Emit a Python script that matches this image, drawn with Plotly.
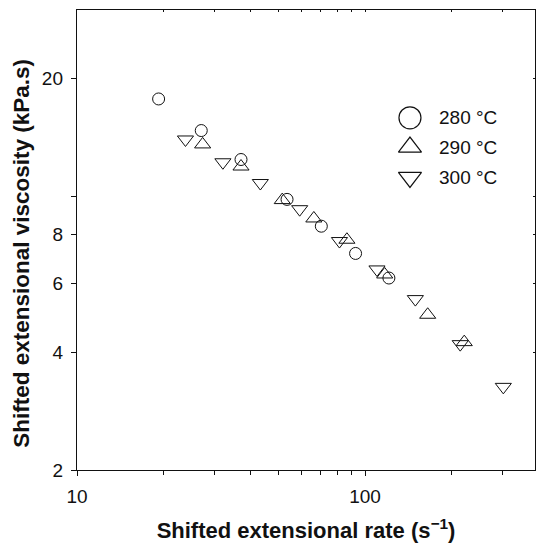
import math
import plotly.graph_objects as go

# ---- data ----
x280 = [19.2, 27.0, 37.1, 53.6, 70.5, 92.7, 121]
y280 = [17.7, 14.7, 12.4, 9.81, 8.38, 7.14, 6.18]

x290 = [27.3, 37.1, 51.6, 66.4, 86.5, 117, 165, 221]
y290 = [13.55, 11.9, 9.77, 8.77, 7.74, 6.31, 4.98, 4.24]

x300 = [23.8, 32.1, 43.3, 59.3, 81.5, 110, 149.5, 214, 302]
y300 = [13.95, 12.2, 10.8, 9.26, 7.68, 6.5, 5.46, 4.19, 3.26]

series_names = ["280 °C", "290 °C", "300 °C"]

x_tickvals = [10, 100]
x_ticktext = ["10", "100"]
x_minor = [20, 30, 40, 50, 60, 70, 80, 90, 200, 300]
y_tickvals = [2, 4, 6, 8, 20]
y_ticktext = ["2", "4", "6", "8", "20"]
y_minor = [10]

x_title = "<b>Shifted extensional rate (s<sup>−1</sup>)</b>"
y_title = "<b>Shifted extensional viscosity (kPa.s)</b>"

FONT = "Liberation Sans, Arial, Helvetica, sans-serif"
XR = [1.0, 2.59]
YR = [math.log10(2), 1.475]
INK = "#111"

fig = go.Figure()

def pts(x, y, sym, size):
    return go.Scatter(x=x, y=y, mode="markers", showlegend=False,
                      marker=dict(symbol=sym, size=size, color=INK,
                                  line=dict(color=INK, width=1)))

fig.add_trace(pts(x280, y280, "circle-open", 12))
fig.add_trace(pts(x290, y290, "triangle-up-open", 14))
fig.add_trace(pts(x300, y300, "triangle-down-open", 14))

# dummy trace for mirrored (top/right) tick axes
fig.add_trace(go.Scatter(x=[None], y=[None], xaxis="x2", yaxis="y2",
                         showlegend=False, hoverinfo="skip"))

# custom legend (markers on a hidden unit axis pair)
leg_x = [0.727, 0.727, 0.727]
leg_y = [0.7656, 0.702, 0.636]
leg_sym = ["circle-open", "triangle-up-open", "triangle-down-open"]
leg_size = [22, 20, 20]
for lx, ly, s, sz in zip(leg_x, leg_y, leg_sym, leg_size):
    fig.add_trace(go.Scatter(x=[lx], y=[ly], xaxis="x3", yaxis="y3", mode="markers",
                             showlegend=False, hoverinfo="skip",
                             marker=dict(symbol=s, size=sz, color=INK,
                                         line=dict(color=INK, width=1.2))))
for ly, name in zip(leg_y, series_names):
    fig.add_annotation(x=0.786, y=ly, xref="x3", yref="y3", text=name,
                       showarrow=False, xanchor="left", yanchor="middle",
                       font=dict(family=FONT, size=19, color=INK))

# y-axis title (placed slightly below the plot centre as in the reference)
fig.add_annotation(x=-0.12, y=0.47, xref="paper", yref="paper", text=y_title,
                   textangle=-90, showarrow=False, xanchor="center", yanchor="middle",
                   font=dict(family=FONT, size=22.5, color=INK))

axis_common = dict(showgrid=False, zeroline=False, showline=True,
                   linecolor=INK, linewidth=1.4, automargin=False)

fig.update_layout(
    width=537, height=543,
    margin=dict(l=77, r=2, t=10, b=73),
    paper_bgcolor="white", plot_bgcolor="white",
    font=dict(family=FONT, color=INK),
    xaxis=dict(type="log", range=XR, tickmode="array", tickvals=x_tickvals,
               ticktext=x_ticktext, tickangle=0,
               ticks="outside", ticklen=5, tickwidth=1.2, tickcolor=INK,
               minor=dict(tickmode="array", tickvals=x_minor, ticks="outside",
                          ticklen=4, tickwidth=1.2, tickcolor=INK, showgrid=False),
               tickfont=dict(size=19, family=FONT, color=INK),
               ticklabelstandoff=4,
               title=dict(text=x_title,
                          font=dict(size=22, family=FONT, color=INK), standoff=17),
               **axis_common),
    yaxis=dict(type="log", range=YR, tickmode="array", tickvals=y_tickvals,
               ticktext=y_ticktext,
               ticks="outside", ticklen=5, tickwidth=1.2, tickcolor=INK,
               minor=dict(tickmode="array", tickvals=y_minor, ticks="outside",
                          ticklen=5, tickwidth=1.2, tickcolor=INK, showgrid=False),
               tickfont=dict(size=19, family=FONT, color=INK),
               ticklabelstandoff=4,
               **axis_common),
    xaxis2=dict(type="log", range=XR, overlaying="x", side="top", anchor="y2",
                tickmode="array", tickvals=x_tickvals + x_minor,
                showticklabels=False, ticks="inside",
                ticklen=2, tickcolor=INK, **axis_common),
    yaxis2=dict(type="log", range=YR, overlaying="y", side="right", anchor="x2",
                tickmode="array", tickvals=y_tickvals + y_minor,
                showticklabels=False, ticks="inside",
                ticklen=2, tickcolor=INK, **axis_common),
    xaxis3=dict(range=[0, 1], overlaying="x", visible=False, anchor="y3"),
    yaxis3=dict(range=[0, 1], overlaying="y", visible=False, anchor="x3"),
)

fig.write_html(
    "out.html",
    config={"displayModeBar": False},
    post_script="document.body.style.margin='0';document.body.style.padding='0';"
                "document.body.style.overflow='hidden';"
                "document.documentElement.style.overflow='hidden';",
)
